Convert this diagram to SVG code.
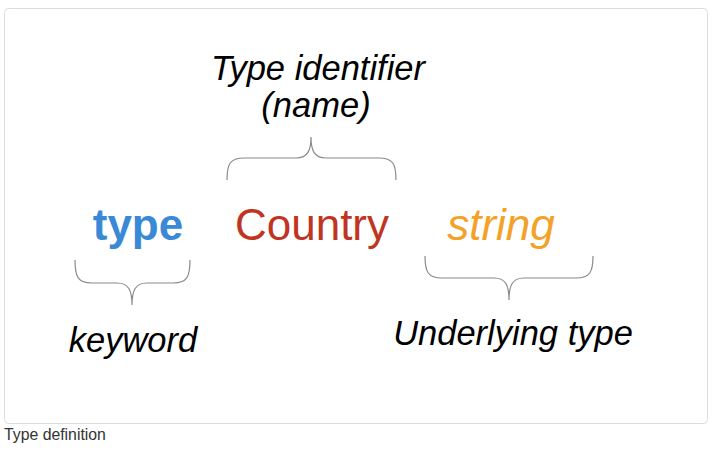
<svg xmlns="http://www.w3.org/2000/svg" width="714" height="458" viewBox="0 0 714 458">
<style>
.lbl{font-family:"Liberation Sans",Arial,sans-serif;font-style:italic;font-size:34.5px;fill:#000;text-anchor:middle}
.big{font-family:"Liberation Sans",Arial,sans-serif;font-size:44px;text-anchor:middle}
.brace{fill:none;stroke:#8a8a8a;stroke-width:1.2}
</style>
<rect x="4.5" y="8.5" width="703" height="415" rx="4" fill="#fff" stroke="#dcdcdc"/>
<g id="connectors">
<path class="brace" d="M227,180 C227,164 230,158 244,158 L296,158 C308,158 311,150 311,137 C311,150 314,158 326,158 L379,158 C393,158 396,164 396,180"/>
<path class="brace" d="M75,260 C75,277 78,283 92,283 L117,283 C129,283 132,291 132,305 C132,291 135,283 147,283 L173,283 C187,283 190,277 190,260"/>
<path class="brace" d="M425,256 C425,272 428,278 442,278 L494,278 C506,278 509,286 509,300 C509,286 512,278 524,278 L576,278 C590,278 593,272 593,256"/>
</g>
<g id="name-label"><text class="lbl" x="318" y="80" font-size="35">Type identifier</text><text class="lbl" x="316" y="117" font-size="35">(name)</text></g>
<g id="type"><text class="big" x="138" y="240" font-weight="bold" fill="#3a89d6">type</text></g>
<g id="country"><text class="big" x="312" y="240" fill="#bf3522">Country</text></g>
<g id="string"><text class="big" x="501" y="240" font-style="italic" fill="#f4a127">string</text></g>
<g id="keyword"><text class="lbl" x="133" y="352">keyword</text></g>
<g id="underlying"><text class="lbl" x="513" y="345">Underlying type</text></g>
<text x="4" y="440" font-family="'Liberation Sans',Arial,sans-serif" font-size="15.8" fill="#333">Type definition</text>
</svg>
